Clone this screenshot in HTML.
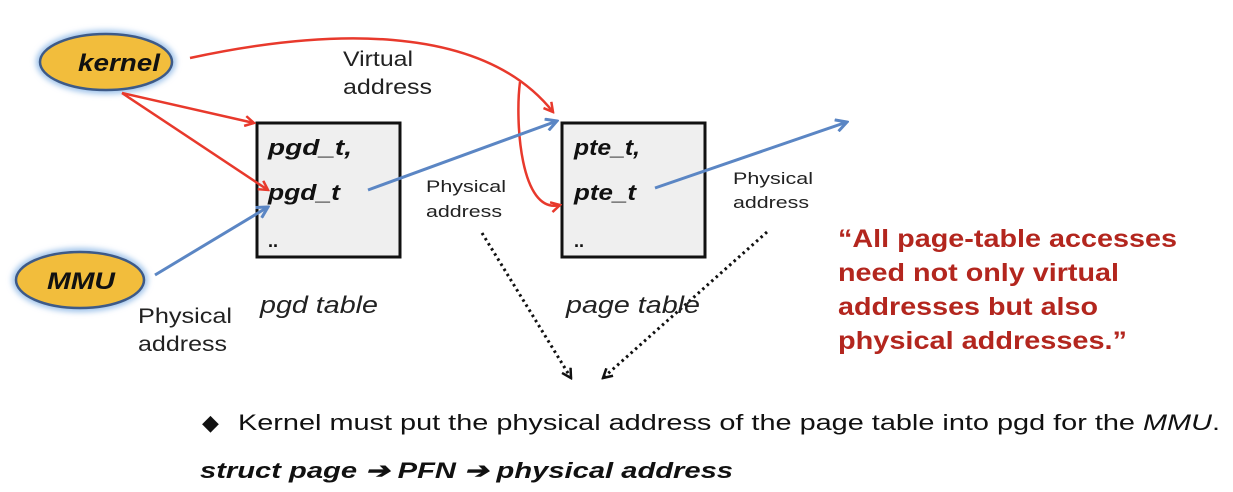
<!DOCTYPE html>
<html><head><style>
body{margin:0;background:#fff;}
svg{display:block;font-family:"Liberation Sans",Arial,sans-serif;}
</style></head><body>
<svg width="1233" height="492" viewBox="0 0 1233 492" xmlns="http://www.w3.org/2000/svg">
<defs>
<marker id="ar" markerWidth="12" markerHeight="12" refX="10" refY="6" orient="auto" markerUnits="userSpaceOnUse"><path d="M1,1 L10,6 L1,11" fill="none" stroke="#e8392c" stroke-width="2.5"/></marker>
<marker id="ab" markerWidth="14" markerHeight="14" refX="12" refY="7" orient="auto" markerUnits="userSpaceOnUse"><path d="M1,1 L12,7 L1,13" fill="none" stroke="#5b86c4" stroke-width="3"/></marker>
<marker id="ad" markerWidth="12" markerHeight="12" refX="10" refY="6" orient="auto" markerUnits="userSpaceOnUse"><path d="M1,1 L10,6 L1,11" fill="none" stroke="#111" stroke-width="2.5"/></marker>
<filter id="gl"><feGaussianBlur stdDeviation="3"/></filter>
</defs>
<ellipse cx="106" cy="62" rx="70" ry="32" fill="#9fc3ea" filter="url(#gl)"/>
<ellipse cx="106" cy="62" rx="66" ry="28" fill="#f2bd3c" stroke="#3d5a88" stroke-width="2.5"/>
<text x="78" y="71" font-size="24" font-weight="bold" font-style="italic" fill="#111" textLength="82" lengthAdjust="spacingAndGlyphs">kernel</text>
<ellipse cx="80" cy="280" rx="68" ry="32" fill="#9fc3ea" filter="url(#gl)"/>
<ellipse cx="80" cy="280" rx="64" ry="28" fill="#f2bd3c" stroke="#3d5a88" stroke-width="2.5"/>
<text x="47" y="289" font-size="24" font-weight="bold" font-style="italic" fill="#111" textLength="68" lengthAdjust="spacingAndGlyphs">MMU</text>

<rect x="257" y="123" width="143" height="134" fill="#efefef" stroke="#111" stroke-width="3"/>
<text x="268" y="155" font-size="22" font-weight="bold" font-style="italic" fill="#111" textLength="84" lengthAdjust="spacingAndGlyphs">pgd_t,</text>
<text x="268" y="200" font-size="22" font-weight="bold" font-style="italic" fill="#111" textLength="72" lengthAdjust="spacingAndGlyphs">pgd_t</text>
<text x="268" y="247" font-size="18" font-weight="bold" fill="#111">..</text>
<rect x="562" y="123" width="143" height="134" fill="#efefef" stroke="#111" stroke-width="3"/>
<text x="574" y="155" font-size="22" font-weight="bold" font-style="italic" fill="#111" textLength="66" lengthAdjust="spacingAndGlyphs">pte_t,</text>
<text x="574" y="200" font-size="22" font-weight="bold" font-style="italic" fill="#111" textLength="62" lengthAdjust="spacingAndGlyphs">pte_t</text>
<text x="574" y="247" font-size="18" font-weight="bold" fill="#111">..</text>

<path d="M190,58 C320,30 480,20 553,112" fill="none" stroke="#e8392c" stroke-width="2.5" marker-end="url(#ar)"/>
<path d="M520,82 C515,120 520,215 560,205" fill="none" stroke="#e8392c" stroke-width="2.5" marker-end="url(#ar)"/>
<path d="M122,93 L254,123" fill="none" stroke="#e8392c" stroke-width="2.5" marker-end="url(#ar)"/>
<path d="M122,93 L268,190" fill="none" stroke="#e8392c" stroke-width="2.5" marker-end="url(#ar)"/>
<path d="M155,275 L268,207" fill="none" stroke="#5b86c4" stroke-width="3" marker-end="url(#ab)"/>
<path d="M368,190 L557,121" fill="none" stroke="#5b86c4" stroke-width="3" marker-end="url(#ab)"/>
<path d="M655,188 L847,122" fill="none" stroke="#5b86c4" stroke-width="3" marker-end="url(#ab)"/>
<path d="M482,233 L571,378" fill="none" stroke="#111" stroke-width="3" stroke-dasharray="2.5,3.5" marker-end="url(#ad)"/>
<path d="M767,232 L603,378" fill="none" stroke="#111" stroke-width="3" stroke-dasharray="2.5,3.5" marker-end="url(#ad)"/>

<text x="343" y="66" font-size="21" fill="#222" textLength="70" lengthAdjust="spacingAndGlyphs">Virtual</text>
<text x="343" y="94" font-size="21" fill="#222" textLength="89" lengthAdjust="spacingAndGlyphs">address</text>
<text x="426" y="192" font-size="17" fill="#222" textLength="80" lengthAdjust="spacingAndGlyphs">Physical</text>
<text x="426" y="217" font-size="17" fill="#222" textLength="76" lengthAdjust="spacingAndGlyphs">address</text>
<text x="733" y="184" font-size="17" fill="#222" textLength="80" lengthAdjust="spacingAndGlyphs">Physical</text>
<text x="733" y="208" font-size="17" fill="#222" textLength="76" lengthAdjust="spacingAndGlyphs">address</text>
<text x="138" y="323" font-size="21" fill="#222" textLength="94" lengthAdjust="spacingAndGlyphs">Physical</text>
<text x="138" y="351" font-size="21" fill="#222" textLength="89" lengthAdjust="spacingAndGlyphs">address</text>
<text x="260" y="313" font-size="24" font-style="italic" fill="#222" textLength="118" lengthAdjust="spacingAndGlyphs">pgd table</text>
<text x="566" y="313" font-size="24" font-style="italic" fill="#222" textLength="134" lengthAdjust="spacingAndGlyphs">page table</text>

<g font-size="25" font-weight="bold" fill="#b3261e">
<text x="838" y="247" textLength="339" lengthAdjust="spacingAndGlyphs">“All page-table accesses</text>
<text x="838" y="281" textLength="281" lengthAdjust="spacingAndGlyphs">need not only virtual</text>
<text x="838" y="315" textLength="260" lengthAdjust="spacingAndGlyphs">addresses but also</text>
<text x="838" y="349" textLength="289" lengthAdjust="spacingAndGlyphs">physical addresses.”</text>
</g>
<text x="202" y="430" font-size="22" fill="#111">◆</text>
<text x="238" y="430" font-size="22" fill="#111" textLength="982" lengthAdjust="spacingAndGlyphs">Kernel must put the physical address of the page table into pgd for the <tspan font-style="italic">MMU</tspan>.</text>
<text x="200" y="478" font-size="22" font-weight="bold" font-style="italic" fill="#111" textLength="533" lengthAdjust="spacingAndGlyphs">struct page ➔ PFN ➔ physical address</text>
</svg>
</body></html>
